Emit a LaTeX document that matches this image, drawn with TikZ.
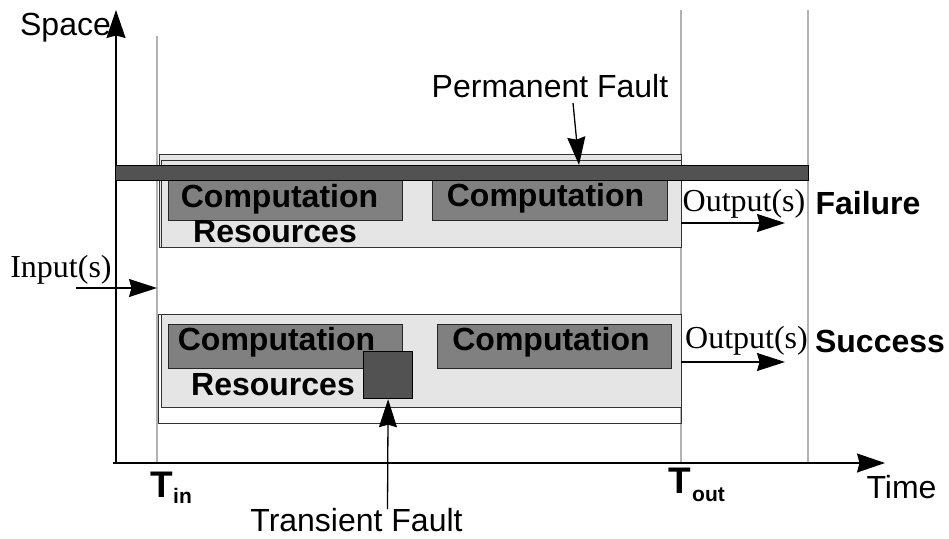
\documentclass[tikz,border=0pt]{standalone}
\usepackage{fontspec}
\setmainfont{Liberation Serif}
\setsansfont{Liberation Sans}
\usetikzlibrary{arrows.meta}
\begin{document}
\begin{tikzpicture}[x=1pt,y=-1pt,
  txt/.style={inner sep=0pt, anchor=base, font=\sffamily\fontsize{32}{36}\selectfont},
  btxt/.style={inner sep=0pt, anchor=base, font=\sffamily\bfseries\fontsize{32}{36}\selectfont},
  stxt/.style={inner sep=0pt, anchor=base, font=\rmfamily\fontsize{32}{36}\selectfont},
  bigT/.style={inner sep=0pt, anchor=base west, font=\sffamily\bfseries\fontsize{37}{40}\selectfont},
  subT/.style={inner sep=0pt, anchor=base west, font=\sffamily\bfseries\fontsize{21}{24}\selectfont},
  guide/.style={draw=black!30, line width=1.3pt},
  axis/.style={draw=black, line width=1.4pt, -{Stealth[length=28pt,width=19pt,inset=2.5pt]}},
  arr/.style={draw=black, line width=1.3pt, -{Stealth[length=28pt,width=18pt,inset=2.5pt]}},
  box/.style={inner sep=0pt, anchor=north west, line width=1.2pt},
  group/.style={box, draw=black!80, fill=black!10},
  frame/.style={box, draw=black!80},
  comp/.style={box, draw=black!85, fill=black!50},
  fault/.style={box, draw=black, fill=black!68},
]
\useasboundingbox (0,0) rectangle (949,538);

% guide lines
\coordinate (g1t) at (157,36);  \coordinate (g1b) at (157,463);
\coordinate (g2t) at (681,10);  \coordinate (g2b) at (681,463);
\coordinate (g3t) at (808,10);  \coordinate (g3b) at (808,463);
\draw[guide] (g1t) -- (g1b);
\draw[guide] (g2t) -- (g2b);
\draw[guide] (g3t) -- (g3b);

% axes
\coordinate (origin) at (116,463);
\coordinate (xstart) at (113,463);
\coordinate (ytip) at (116,10);
\coordinate (xtip) at (885,463);
\draw[axis] (origin) -- (ytip);
\draw[axis] (xstart) -- (xtip);

% top group
\node[group, minimum width=522pt, minimum height=93pt] (topframe) at (159,154) {};
\node[group, minimum width=520pt, minimum height=87pt] (topgrp) at (161,160) {};
\node[comp, minimum width=234pt, minimum height=45pt] (tc1) at (168,175) {};
\node[comp, minimum width=235pt, minimum height=45pt] (tc2) at (432,175) {};
\node[btxt] (tc1t) at (279.5,207) {Computation};
\node[btxt] (tc2t) at (545.5,206) {Computation};
\node[btxt] (tres) at (275,242) {Resources};

% permanent fault bar
\node[fault, minimum width=693pt, minimum height=15pt] (bar) at (115,165) {};

% bottom group
\node[frame, minimum width=523pt, minimum height=109pt] (botframe) at (158,314) {};
\node[group, minimum width=520pt, minimum height=93pt] (botgrp) at (161,314) {};
\node[comp, minimum width=234pt, minimum height=44pt] (bc1) at (168,324) {};
\node[comp, minimum width=234pt, minimum height=44pt] (bc2) at (437,324) {};
\node[btxt] (bc1t) at (276.5,350) {Computation};
\node[btxt] (bc2t) at (551,350) {Computation};
\node[btxt] (bres) at (273,395) {Resources};
\node[fault, minimum width=49pt, minimum height=47pt] (trans) at (363,351) {};

% labels
\node[txt] (space) at (65.5,35) {Space};
\node[txt] (time) at (901.5,498) {Time};
\node[txt] (pf) at (550,97) {Permanent Fault};
\node[txt] (tf) at (356.5,531) {Transient Fault};
\node[stxt] (inp) at (61,277) {Input(s)};
\node[stxt] (out1) at (744,211) {Output(s)};
\node[stxt] (out2) at (746.5,348) {Output(s)};
\node[btxt] (fail) at (868,214) {Failure};
\node[btxt] (succ) at (880,352) {Success};

\node[bigT] (tin) at (150,497) {T};
\node[subT] (tinsub) at ([yshift=-6pt]tin.base east) {in};
\node[bigT] (tout) at (668,493) {T};
\node[subT] (toutsub) at ([yshift=-8pt,xshift=1pt]tout.base east) {out};

% arrows
\coordinate (pfs) at (573,103);
\coordinate (pfe) at (579,165);
\draw[arr] (pfs) -- (pfe);
\coordinate (tfs) at (387.5,509);
\draw[arr] (tfs) -- (trans.south);
\coordinate (ins) at (76,288);
\coordinate (ine) at (157,288);
\draw[arr] (ins) -- (ine);
\coordinate (o1s) at (681,223);
\coordinate (o1e) at (785,223);
\draw[arr] (o1s) -- (o1e);
\coordinate (o2s) at (681,362);
\coordinate (o2e) at (785,362);
\draw[arr] (o2s) -- (o2e);
\end{tikzpicture}
\end{document}
